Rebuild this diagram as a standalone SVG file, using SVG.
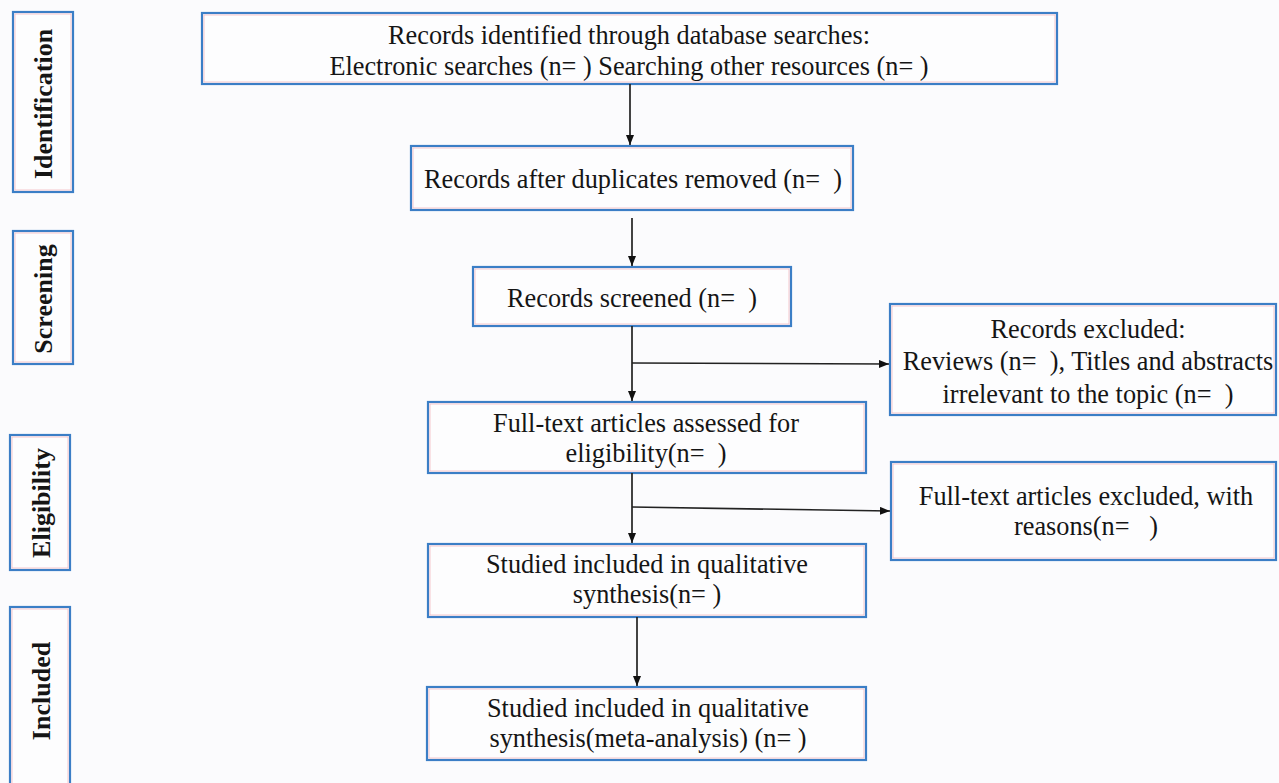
<svg xmlns="http://www.w3.org/2000/svg" width="1279" height="783" viewBox="0 0 1279 783">
<defs>
<style>
.box{fill:#fdfdfe;stroke:#3b7ec6;stroke-width:2.2}
.inner{fill:none;stroke:#f2b8c0;stroke-width:0.8}
.t{font-family:"Liberation Serif","Times New Roman",serif;font-size:26.3px;fill:#151515;text-anchor:middle}
.side{font-family:"Liberation Serif","Times New Roman",serif;font-size:26px;font-weight:bold;fill:#151515;text-anchor:middle}
.conn{fill:none;stroke:#222;stroke-width:1.7}
</style>
<marker id="ah" markerUnits="userSpaceOnUse" markerWidth="12" markerHeight="10" refX="10" refY="4" orient="auto">
<path d="M0,0 L10,4 L0,8 z" fill="#111"/>
</marker>
</defs>
<rect x="0" y="0" width="1279" height="783" fill="#fbfbfd"/>

<g id="side-identification">
<rect class="box" x="13" y="12" width="60" height="180"/>
<rect class="inner" x="15" y="14" width="56" height="176"/>
<text class="side" transform="translate(52,104) rotate(-90)">Identification</text>
</g>
<g id="side-screening">
<rect class="box" x="13" y="231" width="60" height="133"/>
<rect class="inner" x="15" y="233" width="56" height="129"/>
<text class="side" transform="translate(52,299) rotate(-90)">Screening</text>
</g>
<g id="side-eligibility">
<rect class="box" x="10" y="435" width="60" height="135"/>
<rect class="inner" x="12" y="437" width="56" height="131"/>
<text class="side" transform="translate(50,503) rotate(-90)">Eligibility</text>
</g>
<g id="side-included">
<rect class="box" x="10" y="607" width="60" height="190"/>
<rect class="inner" x="12" y="609" width="56" height="186"/>
<text class="side" transform="translate(50,691) rotate(-90)">Included</text>
</g>

<g id="n-identified">
<rect class="box" x="202" y="13" width="855" height="71"/>
<rect class="inner" x="204" y="15" width="851" height="67"/>
<text class="t" x="629" y="44">Records identified through database searches:</text>
<text class="t" x="629" y="75">Electronic searches (n= ) Searching other resources (n= )</text>
</g>
<g id="n-duplicates">
<rect class="box" x="411" y="146" width="442" height="64"/>
<rect class="inner" x="413" y="148" width="438" height="60"/>
<text class="t" x="633" y="188" xml:space="preserve">Records after duplicates removed (n=  )</text>
</g>
<g id="n-screened">
<rect class="box" x="473" y="267" width="318" height="59"/>
<rect class="inner" x="475" y="269" width="314" height="55"/>
<text class="t" x="632" y="307" xml:space="preserve">Records screened (n=  )</text>
</g>
<g id="n-excluded">
<rect class="box" x="890" y="304" width="386" height="111"/>
<rect class="inner" x="892" y="306" width="382" height="107"/>
<text class="t" x="1088" y="338">Records excluded:</text>
<text class="t" x="1088" y="370" xml:space="preserve">Reviews (n=  ), Titles and abstracts</text>
<text class="t" x="1088" y="403" xml:space="preserve">irrelevant to the topic (n=  )</text>
</g>
<g id="n-fulltext">
<rect class="box" x="428" y="402" width="438" height="71"/>
<rect class="inner" x="430" y="404" width="434" height="67"/>
<text class="t" x="646" y="432">Full-text articles assessed for</text>
<text class="t" x="646" y="462" xml:space="preserve">eligibility(n=  )</text>
</g>
<g id="n-ft-excluded">
<rect class="box" x="891" y="462" width="385" height="98"/>
<rect class="inner" x="893" y="464" width="381" height="94"/>
<text class="t" x="1086" y="505">Full-text articles excluded, with</text>
<text class="t" x="1086" y="535" xml:space="preserve">reasons(n=   )</text>
</g>
<g id="n-qualitative">
<rect class="box" x="428" y="544" width="438" height="73"/>
<rect class="inner" x="430" y="546" width="434" height="69"/>
<text class="t" x="647" y="573">Studied included in qualitative</text>
<text class="t" x="647" y="603">synthesis(n= )</text>
</g>
<g id="n-meta">
<rect class="box" x="427" y="687" width="439" height="73"/>
<rect class="inner" x="429" y="689" width="435" height="69"/>
<text class="t" x="648" y="717">Studied included in qualitative</text>
<text class="t" x="648" y="747">synthesis(meta-analysis) (n= )</text>
</g>

<g id="connectors">
<line class="conn" x1="630" y1="84" x2="630" y2="145" marker-end="url(#ah)"/>
<line class="conn" x1="632" y1="218" x2="632" y2="266" marker-end="url(#ah)"/>
<line class="conn" x1="632" y1="326" x2="632" y2="401" marker-end="url(#ah)"/>
<line class="conn" x1="632" y1="363" x2="889" y2="364" marker-end="url(#ah)"/>
<line class="conn" x1="632" y1="473" x2="632" y2="543" marker-end="url(#ah)"/>
<line class="conn" x1="632" y1="507" x2="890" y2="511" marker-end="url(#ah)"/>
<line class="conn" x1="637" y1="617" x2="637" y2="686" marker-end="url(#ah)"/>
</g>
</svg>
